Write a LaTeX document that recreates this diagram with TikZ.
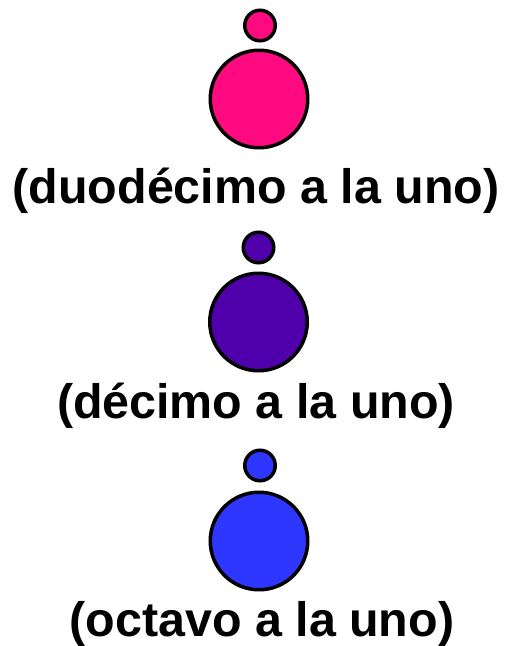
\documentclass[tikz,border=0pt]{standalone}
\usepackage{fontspec}
\setmainfont{Liberation Sans}
\definecolor{cpink}{RGB}{255,10,128}
\definecolor{cpurple}{RGB}{80,0,170}
\definecolor{cblue}{RGB}{45,55,255}
\tikzset{
  smallball/.style={circle,draw=black,line width=3.5pt,minimum size=30.5pt,inner sep=0pt},
  bigball/.style={circle,draw=black,line width=3.5pt,minimum size=97.5pt,inner sep=0pt},
  caption/.style={anchor=base,inner sep=0pt,font=\fontsize{48.4}{50}\selectfont\bfseries}
}
\begin{document}
\begin{tikzpicture}[x=1pt,y=-1pt]
\useasboundingbox (0,0) rectangle (504,646);
\node[smallball,fill=cpink] (s1) at (260,25.5) {};
\node[bigball,fill=cpink] (b1) at (259,99) {};
\node[caption] (t1) at (256,203) {(duodécimo a la uno)};
\node[smallball,fill=cpurple] (s2) at (258.5,247.5) {};
\node[bigball,fill=cpurple] (b2) at (258.5,322) {};
\node[caption] (t2) at (256,418) {(décimo a la uno)};
\node[smallball,fill=cblue] (s3) at (260,465.5) {};
\node[bigball,fill=cblue] (b3) at (259,541) {};
\node[caption] (t3) at (262,636) {(octavo a la uno)};
\end{tikzpicture}
\end{document}
